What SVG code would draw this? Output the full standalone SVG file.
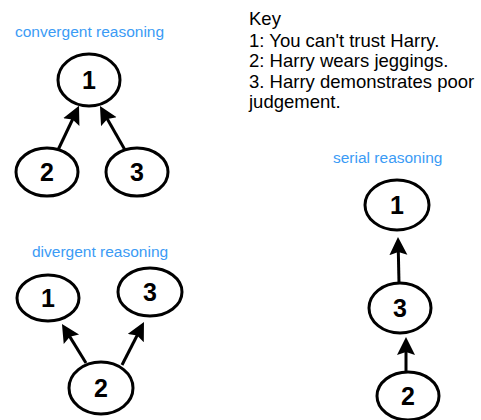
<svg xmlns="http://www.w3.org/2000/svg" width="481" height="420" viewBox="0 0 481 420">
<style>
.node ellipse{fill:#fff;stroke:#000;stroke-width:3}
.node text{font-family:"Liberation Sans",Arial,sans-serif;font-weight:bold;font-size:25px;fill:#000;text-anchor:middle}
.lbl{font-family:"Liberation Sans",Arial,sans-serif;font-size:15.5px;fill:#3b9bf5}
.key{font-family:"Liberation Sans",Arial,sans-serif;font-size:18.5px;fill:#000}
.edge{stroke:#000;stroke-width:3;fill:none;marker-end:url(#ah)}
</style>
<defs>
<marker id="ah" markerUnits="userSpaceOnUse" markerWidth="19" markerHeight="19" refX="4" refY="9" orient="auto">
<path d="M0,0 L18,9 L0,18 L3,9 z" fill="#000"/>
</marker>
</defs>
<rect width="481" height="420" fill="#fff"/>
<text class="lbl" x="15" y="37">convergent reasoning</text>
<text class="lbl" x="32" y="257">divergent reasoning</text>
<text class="lbl" x="333" y="163">serial reasoning</text>
<g id="key">
<text class="key" x="249" y="25">Key</text>
<text class="key" x="249" y="46.5">1: You can't trust Harry.</text>
<text class="key" x="249" y="67">2: Harry wears jeggings.</text>
<text class="key" x="249" y="87.5">3. Harry demonstrates poor</text>
<text class="key" x="249" y="108">judgement.</text>
</g>
<g id="connectors">
<line class="edge" x1="58" y1="150" x2="73" y2="118.5"/>
<line class="edge" x1="125" y1="150" x2="106.9" y2="118.2"/>
<line class="edge" x1="86" y1="363" x2="69.3" y2="335.9"/>
<line class="edge" x1="122" y1="365" x2="137.6" y2="334.5"/>
<line class="edge" x1="399" y1="283" x2="398.3" y2="251"/>
<line class="edge" x1="406" y1="371" x2="406" y2="351"/>
</g>
<g id="c1" class="node"><ellipse cx="89" cy="80" rx="31" ry="26"/><text x="89" y="89">1</text></g>
<g id="c2" class="node"><ellipse cx="47" cy="172" rx="31" ry="24"/><text x="47" y="181">2</text></g>
<g id="c3" class="node"><ellipse cx="137" cy="172" rx="31" ry="24"/><text x="137" y="181">3</text></g>
<g id="d1" class="node"><ellipse cx="48" cy="298" rx="31" ry="23"/><text x="48" y="307">1</text></g>
<g id="d3" class="node"><ellipse cx="150" cy="292" rx="32" ry="24"/><text x="150" y="301">3</text></g>
<g id="d2" class="node"><ellipse cx="101" cy="388" rx="32" ry="26"/><text x="101" y="397">2</text></g>
<g id="s1" class="node"><ellipse cx="397" cy="205" rx="32" ry="25"/><text x="397" y="214">1</text></g>
<g id="s3" class="node"><ellipse cx="400" cy="308" rx="31" ry="25"/><text x="400" y="317">3</text></g>
<g id="s2" class="node"><ellipse cx="408" cy="396" rx="31" ry="24"/><text x="408" y="405">2</text></g>
</svg>
